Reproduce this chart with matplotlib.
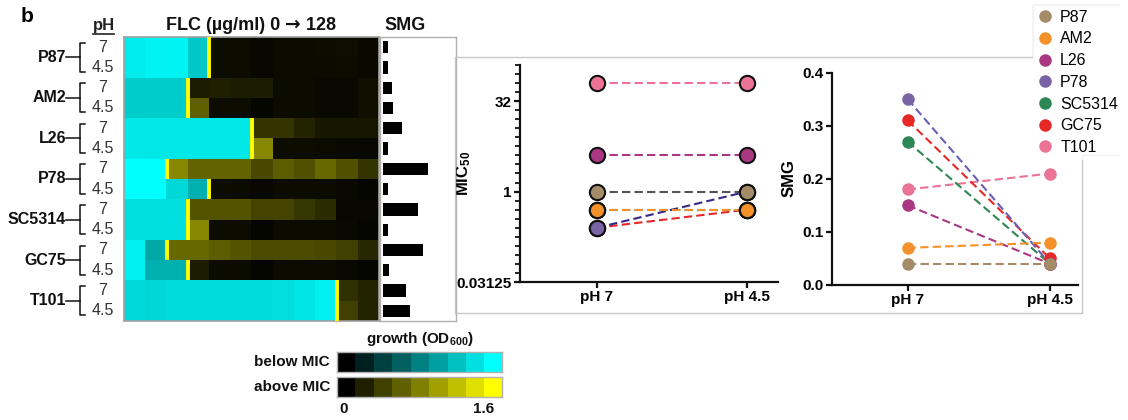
import numpy as np
import matplotlib
matplotlib.use("Agg")
import matplotlib.pyplot as plt
from matplotlib.colors import LinearSegmentedColormap, Normalize
from matplotlib.lines import Line2D
import matplotlib.transforms as mtransforms

plt.rcParams['font.family'] = ['Liberation Sans', 'DejaVu Sans']
plt.rcParams['mathtext.fontset'] = 'custom'
plt.rcParams['mathtext.rm'] = 'Liberation Sans:bold'
plt.rcParams['mathtext.bf'] = 'Liberation Sans:bold'
plt.rcParams['mathtext.default'] = 'bf'

# ---------------- data ----------------
strains = ["P87", "AM2", "L26", "P78", "SC5314", "GC75", "T101"]
ph_levels = ["7", "4.5"]
flc_conc = [0, 0.125, 0.25, 0.5, 1, 2, 4, 8, 16, 32, 64, 128]

mic_ph7 = [1, 0.5, 4, 0.25, 0.5, 0.25, 64]
mic_ph45 = [1, 0.5, 4, 1, 0.5, 0.5, 64]
smg_ph7 = [0.04, 0.07, 0.15, 0.35, 0.27, 0.31, 0.18]
smg_ph45 = [0.04, 0.08, 0.04, 0.04, 0.04, 0.05, 0.21]

od_P87_7 = [1.48, 1.52, 1.52, 1.25, 0.08, 0.08, 0.05, 0.07, 0.07, 0.08, 0.09, 0.06]
od_P87_45 = [1.48, 1.52, 1.52, 1.25, 0.08, 0.08, 0.05, 0.07, 0.07, 0.07, 0.08, 0.06]
od_AM2_7 = [1.28, 1.28, 1.28, 0.18, 0.20, 0.18, 0.18, 0.07, 0.07, 0.06, 0.06, 0.10]
od_AM2_45 = [1.28, 1.28, 1.28, 0.60, 0.08, 0.08, 0.04, 0.07, 0.07, 0.06, 0.06, 0.10]
od_L26_7 = [1.46, 1.45, 1.45, 1.45, 1.45, 1.45, 0.33, 0.33, 0.22, 0.15, 0.15, 0.15]
od_L26_45 = [1.46, 1.45, 1.45, 1.45, 1.45, 1.45, 0.85, 0.08, 0.08, 0.07, 0.06, 0.05]
od_P78_7 = [1.60, 1.60, 0.85, 0.62, 0.62, 0.62, 0.45, 0.58, 0.50, 0.65, 0.50, 0.33]
od_P78_45 = [1.60, 1.60, 1.35, 1.10, 0.08, 0.07, 0.05, 0.07, 0.07, 0.07, 0.06, 0.04]
od_SC5314_7 = [1.40, 1.40, 1.40, 0.52, 0.52, 0.52, 0.43, 0.43, 0.34, 0.27, 0.05, 0.05]
od_SC5314_45 = [1.40, 1.40, 1.40, 0.85, 0.08, 0.08, 0.04, 0.07, 0.07, 0.07, 0.06, 0.04]
od_GC75_7 = [1.50, 1.05, 0.65, 0.65, 0.58, 0.52, 0.47, 0.47, 0.47, 0.45, 0.40, 0.25]
od_GC75_45 = [1.50, 1.10, 1.10, 0.18, 0.07, 0.07, 0.04, 0.07, 0.07, 0.07, 0.06, 0.04]
od_T101_7 = [1.36, 1.34, 1.38, 1.38, 1.38, 1.38, 1.38, 1.39, 1.44, 1.50, 0.30, 0.22]
od_T101_45 = [1.36, 1.34, 1.38, 1.38, 1.38, 1.38, 1.38, 1.39, 1.44, 1.50, 0.40, 0.22]

od_rows = [od_P87_7, od_P87_45, od_AM2_7, od_AM2_45, od_L26_7, od_L26_45,
           od_P78_7, od_P78_45, od_SC5314_7, od_SC5314_45, od_GC75_7, od_GC75_45,
           od_T101_7, od_T101_45]

marker_colors = ["#a58c69", "#f5912a", "#aa3782", "#7864a5", "#2d8755", "#e62828", "#eb7396"]
mic_line_colors = ["#555555", "#f5912a", "#aa3782", "#33288c", "#2d8755", "#e62828", "#eb7396"]
smg_line_colors = ["#a58c69", "#f5912a", "#aa3782", "#6a5fb5", "#2d8755", "#e62828", "#eb7396"]

od_max = 1.6
# ---------------- figure ----------------
W, H = 1128, 420
fig = plt.figure(figsize=(W / 100, H / 100), dpi=100)
fig.patch.set_facecolor("white")


def rect(x0, y0, x1, y1):
    return [x0 / W, 1 - y1 / H, (x1 - x0) / W, (y1 - y0) / H]


px = lambda x: x / W
py = lambda y: 1 - y / H

cmap_below = LinearSegmentedColormap.from_list("below", ["#000000", "#00ffff"])
cmap_above = LinearSegmentedColormap.from_list("above", ["#000000", "#ffff00"])
norm = Normalize(0, od_max)

# ---- heatmap ----
ax_hm = fig.add_axes(rect(124, 37, 379, 321))
n_rows = len(od_rows)
n_cols = len(flc_conc)
mic_rows = []
for i in range(len(strains)):
    mic_rows.append(mic_ph7[i])
    mic_rows.append(mic_ph45[i])
rgb = np.zeros((n_rows, n_cols, 3))
for r in range(n_rows):
    b = flc_conc.index(mic_rows[r])
    for c in range(n_cols):
        cm = cmap_below if c < b else cmap_above
        rgb[r, c] = cm(norm(od_rows[r][c]))[:3]
ax_hm.imshow(rgb, aspect="auto", interpolation="nearest",
             extent=(-0.5, n_cols - 0.5, n_rows - 0.5, -0.5))
for r in range(n_rows):
    b = flc_conc.index(mic_rows[r])
    ax_hm.plot([b - 0.5, b - 0.5], [r - 0.5, r + 0.5], color="#ffff00", lw=2.8,
               solid_capstyle="butt", zorder=3)
ax_hm.set_xlim(-0.5, n_cols - 0.5)
ax_hm.set_ylim(n_rows - 0.5, -0.5)
ax_hm.set_xticks([])
ax_hm.set_yticks([])
for s in ax_hm.spines.values():
    s.set_color("#a0a0a0")
    s.set_linewidth(1.2)

# left labels
tr = mtransforms.blended_transform_factory(fig.transFigure, ax_hm.transData)
for i, name in enumerate(strains):
    yc = 2 * i + 0.5
    ax_hm.text(px(66), yc, name, transform=tr, ha="right", va="center",
               fontsize=11.5, fontweight="bold", color="#111111", clip_on=False)
    ax_hm.plot([px(66), px(80)], [yc, yc], transform=tr, color="#111111", lw=1.1,
               clip_on=False)
    ax_hm.plot([px(84.5), px(80), px(80), px(84.5)],
               [2 * i - 0.22, 2 * i - 0.22, 2 * i + 1.22, 2 * i + 1.22],
               transform=tr, color="#111111", lw=1.1, clip_on=False)
    for j, ph in enumerate(ph_levels):
        ax_hm.text(px(103), 2 * i + j, ph, transform=tr, ha="center", va="center",
                   fontsize=11.5, color="#333333", clip_on=False)

fig.text(px(103.5), py(30), "pH", ha="center", va="baseline", fontsize=12,
         fontweight="bold", color="#222222")
fig.add_artist(Line2D([px(93), px(114)], [py(34), py(34)], color="#222222", lw=1.2))

# title with a larger arrow
renderer = fig.canvas.get_renderer()
parts = [("FLC (\u00b5g/ml) 0 ", ["Liberation Sans"], 13),
         ("\u2192", ["DejaVu Sans"], 13.5),
         (" 128", ["Liberation Sans"], 13)]
texts = []
widths = []
for s, fam, fs in parts:
    t = fig.text(0, py(30), s, ha="left", va="baseline", fontsize=fs,
                 fontweight="bold", family=fam, color="#111111")
    widths.append(t.get_window_extent(renderer).width)
    texts.append(t)
x_start = 251 - sum(widths) / 2
for t, w in zip(texts, widths):
    t.set_x(px(x_start))
    x_start += w
texts[1].set_y(py(29.5))

fig.text(px(405), py(30), "SMG", ha="center", va="baseline",
         fontsize=13, fontweight="bold", color="#111111")
fig.text(px(21), py(22), "b", ha="left", va="baseline", fontsize=15,
         fontweight="bold", color="#000000")

# ---- SMG bars ----
ax_bar = fig.add_axes(rect(380, 37, 456, 321))
bar_vals = []
for i in range(len(strains)):
    bar_vals.append(smg_ph7[i])
    bar_vals.append(smg_ph45[i])
ax_bar.barh(np.arange(n_rows), bar_vals, height=0.6, color="black")
ax_bar.set_xlim(-0.0234, 0.570)
ax_bar.set_ylim(n_rows - 0.5, -0.5)
ax_bar.set_xticks([])
ax_bar.set_yticks([])
for s in ax_bar.spines.values():
    s.set_color("#b0b0b0")
    s.set_linewidth(1.0)

# ---- gray frame lines ----
def gline(pts, color="#c8c8c8", lw=1.0):
    xs = [p[0] / W for p in pts]
    ys = [1 - p[1] / H for p in pts]
    fig.add_artist(Line2D(xs, ys, color=color, lw=lw))

gline([(455, 313), (455, 57), (1033, 57), (1033, 5), (1119, 5)])
gline([(455, 313), (1082, 313), (1082, 155), (1119, 155)])

# ---- MIC plot ----
ax_mic = fig.add_axes(rect(520, 65, 778, 282))
x_pos = [0, 1]
order = list(range(len(strains)))[::-1]
for i in order:
    ax_mic.plot(x_pos, [mic_ph7[i], mic_ph45[i]], ls=(0, (4, 2)), lw=1.5,
                color=mic_line_colors[i], zorder=2)
for i in order:
    ax_mic.plot(x_pos, [mic_ph7[i], mic_ph45[i]], ls="none", marker="o", ms=11,
                mfc=marker_colors[i], mec="#111111", mew=1.5, zorder=3)
ax_mic.set_yscale("log", base=2)
ax_mic.set_ylim(2 ** -5, 2 ** 7)
ax_mic.set_xlim(-0.513, 1.207)
ax_mic.set_yticks([2 ** -5, 1, 32])
ax_mic.set_yticklabels(["0.03125", "1", "32"])
ax_mic.set_yticks(2.0 ** np.arange(-5, 7.01, 0.5), minor=True)
ax_mic.yaxis.set_minor_formatter(matplotlib.ticker.NullFormatter())
ax_mic.set_xticks(x_pos)
ax_mic.set_xticklabels(["pH 7", "pH 4.5"])
ax_mic.set_ylabel("MIC$_{50}$", fontsize=12, fontweight="bold")
ax_mic.yaxis.set_label_coords((473 - 520) / 258, 0.5)

# ---- SMG plot ----
ax_smg = fig.add_axes(rect(832, 72.7, 1078, 285))
for i in order:
    ax_smg.plot(x_pos, [smg_ph7[i], smg_ph45[i]], ls=(0, (4, 2)), lw=1.5,
                color=smg_line_colors[i], zorder=2)
for i in order:
    ax_smg.plot(x_pos, [smg_ph7[i], smg_ph45[i]], ls="none", marker="o", ms=9,
                mfc=marker_colors[i], mec="none", zorder=3)
ax_smg.set_ylim(0, 0.4)
ax_smg.set_xlim(-0.532, 1.197)
ax_smg.set_yticks([0, 0.1, 0.2, 0.3, 0.4])
ax_smg.set_yticklabels(["0.0", "0.1", "0.2", "0.3", "0.4"])
ax_smg.set_xticks(x_pos)
ax_smg.set_xticklabels(["pH 7", "pH 4.5"])
ax_smg.set_ylabel("SMG", fontsize=12, fontweight="bold")
ax_smg.yaxis.set_label_coords((797 - 832) / 246, (285 - 178) / (285 - 72.7))

for ax in (ax_mic, ax_smg):
    ax.set_facecolor("none")
    for side in ("top", "right"):
        ax.spines[side].set_visible(False)
    for side in ("left", "bottom"):
        ax.spines[side].set_linewidth(1.6)
        ax.spines[side].set_color("#111111")
    ax.tick_params(axis="both", which="major", direction="out", length=4.5, width=1.6,
                   labelsize=11, color="#111111", pad=1.5)
    ax.tick_params(axis="y", which="minor", direction="out", length=3.5, width=1.3,
                   color="#111111")
    for lab in ax.get_xticklabels() + ax.get_yticklabels():
        lab.set_fontweight("bold")
ax_mic.tick_params(axis="x", which="minor", length=0)

# ---- legend ----
handles = [Line2D([], [], ls="none", marker="o", ms=9, mfc=c, mec="none")
           for c in marker_colors]
leg = fig.legend(handles, strains, loc="upper left",
                 bbox_to_anchor=(1033 / W, 1 - 5 / H), frameon=True,
                 fontsize=11.5, handlelength=0.9, handletextpad=0.5,
                 labelspacing=0.42, borderpad=0.3, borderaxespad=0)
leg.get_frame().set_facecolor("white")
leg.get_frame().set_edgecolor("none")
leg.get_frame().set_boxstyle("square", pad=0)

# ---- colour key ----
key_vals = np.linspace(0, od_max, 9)[None, :]
ax_k1 = fig.add_axes(rect(337, 352, 502, 372))
ax_k1.imshow(key_vals, cmap=cmap_below, norm=norm, aspect="auto", interpolation="nearest")
ax_k2 = fig.add_axes(rect(337, 377, 502, 397))
ax_k2.imshow(key_vals, cmap=cmap_above, norm=norm, aspect="auto", interpolation="nearest")
for ax in (ax_k1, ax_k2):
    ax.set_xticks([])
    ax.set_yticks([])
    for s in ax.spines.values():
        s.set_color("#b0b0b0")
        s.set_linewidth(1.0)
fig.text(px(420), py(343), "growth (OD$_{600}$)", ha="center", va="baseline",
         fontsize=11, fontweight="bold", color="#111111")
fig.text(px(330), py(362), "below MIC", ha="right", va="center",
         fontsize=11, fontweight="bold", color="#111111")
fig.text(px(330), py(387), "above MIC", ha="right", va="center",
         fontsize=11, fontweight="bold", color="#111111")
fig.text(px(344), py(409), "0", ha="center", va="center",
         fontsize=11, fontweight="bold", color="#111111")
fig.text(px(484), py(409), "1.6", ha="center", va="center",
         fontsize=11, fontweight="bold", color="#111111")

fig.savefig("out.png", dpi=100, facecolor="white")
